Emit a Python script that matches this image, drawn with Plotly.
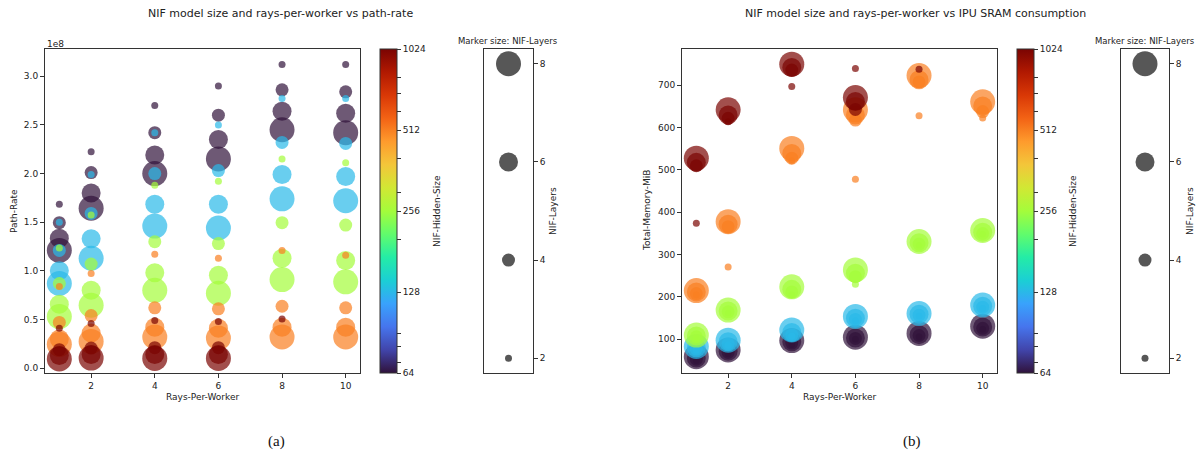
import numpy as np
import plotly.graph_objects as go

W, H = 1200, 457

# ---------------- data ----------------
rays = [1, 2, 4, 6, 8, 10]
hidden_sizes = [64, 128, 256, 512, 1024]
layers = [2, 4, 6, 8]

# path rate (rows: rays, cols: layers 2,4,6,8), in units of 1e8
path_rate_64 = [[1.685, 1.495, 1.334, 1.21], [2.224, 2.01, 1.80, 1.643], [2.70, 2.42, 2.19, 2.00],
                [2.90, 2.60, 2.35, 2.15], [3.12, 2.86, 2.64, 2.45], [3.12, 2.84, 2.62, 2.42]]
path_rate_128 = [[1.50, 1.21, 1.00, 0.87], [1.99, 1.59, 1.33, 1.13], [2.42, 2.00, 1.685, 1.46],
                 [2.50, 2.03, 1.685, 1.44], [2.77, 2.32, 1.99, 1.74], [2.77, 2.31, 1.97, 1.72]]
path_rate_256 = [[1.235, 0.87, 0.657, 0.53], [1.574, 1.07, 0.80, 0.646], [1.88, 1.30, 0.98, 0.80],
                 [1.92, 1.28, 0.955, 0.77], [2.15, 1.495, 1.13, 0.91], [2.11, 1.47, 1.107, 0.887]]
path_rate_512 = [[0.84, 0.47, 0.30, 0.245], [0.973, 0.54, 0.36, 0.275], [1.17, 0.62, 0.42, 0.32],
                 [1.13, 0.61, 0.41, 0.31], [1.21, 0.636, 0.42, 0.32], [1.16, 0.62, 0.42, 0.32]]
path_rate_1024 = [[0.41, 0.19, 0.13, 0.095], [0.458, 0.206, 0.14, 0.103], [0.49, 0.21, 0.14, 0.10],
                  [0.48, 0.21, 0.14, 0.10], [0.505, None, None, None], [None, None, None, None]]
path_rate_scale = 1e8

# total memory MiB (rows: rays, cols: layers 2,4,6,8)
memory_64 = [[50, 53, 56, 59], [66, 69, 72, 75], [88, 91, 94, 97],
             [100, 102, 103, 105], [106, 109, 111, 114], [124, 126, 129, 131]]
memory_128 = [[74, 77, 80, 83], [86, 89, 94, 98], [107, 110, 116, 122],
              [144, 147, 150, 154], [155, 157, 159, 161], [173, 176, 178, 181]]
memory_256 = [[103, 106, 108, 110], [162, 165, 167, 169], [205, 212, 218, 224],
              [230, 248, 256, 264], [322, 325, 328, 331], [348, 350, 353, 357]]
memory_512 = [[205, 208, 212, 215], [271, 366, 372, 378], [522, 528, 539, 551],
              [478, 618, 630, 642], [628, 708, 713, 723], [623, 638, 651, 661]]
memory_1024 = [[374, 510, 518, 528], [614, 622, 630, 642], [697, 736, 742, 750],
               [740, 643, 662, 671], [738, None, None, None], [None, None, None, None]]

path_rates = {64: path_rate_64, 128: path_rate_128, 256: path_rate_256, 512: path_rate_512, 1024: path_rate_1024}
memories = {64: memory_64, 128: memory_128, 256: memory_256, 512: memory_512, 1024: memory_1024}

path_ticks = [0.0, 0.5, 1.0, 1.5, 2.0, 2.5, 3.0]
mem_ticks = [100, 200, 300, 400, 500, 600, 700]
x_ticks = [2, 4, 6, 8, 10]
cbar_major = [64, 128, 256, 512, 1024]
cbar_minor = [70, 80, 90, 200, 300, 400, 600, 700, 800]

# ---------------- helpers ----------------
def fx(px):
    return px / W

def fy(py):
    return 1 - py / H

FONT = "DejaVu Sans"
LINE = "#333333"

def build(table):
    xs, ys, cs, ss = [], [], [], []
    for h in hidden_sizes:
        for li, L in enumerate(layers):
            for ri, r in enumerate(rays):
                v = table[h][ri][li]
                if v is None:
                    continue
                xs.append(r)
                ys.append(v)
                cs.append(np.log2(h))
                ss.append(3 * L + 1)
    return xs, ys, cs, ss

main_top, main_bot = 49, 373
ydom = [fy(main_bot), fy(main_top)]
ymid = fy((main_top + main_bot) / 2)

cb_tickvals = [float(np.log2(v)) for v in cbar_major + cbar_minor]
cb_ticktext = [str(v) for v in cbar_major] + [""] * len(cbar_minor)

def colorbar(x_left):
    return dict(x=fx(x_left), xanchor="left", y=ymid, yanchor="middle",
                thickness=17, thicknessmode="pixels",
                len=(main_bot - main_top) / H, lenmode="fraction",
                xpad=0, ypad=0, outlinewidth=1, outlinecolor=LINE,
                ticks="outside", ticklen=4, tickcolor=LINE, tickwidth=1,
                tickvals=cb_tickvals, ticktext=cb_ticktext,
                tickfont=dict(family=FONT, size=9, color="#222"))

fig = go.Figure()

# panel (a)
xa, ya, ca, sa = build(path_rates)
fig.add_trace(go.Scatter(
    x=xa, y=[v * path_rate_scale for v in ya], mode="markers", xaxis="x", yaxis="y",
    marker=dict(size=sa, color=ca, colorscale="Turbo", cmin=6, cmax=10, opacity=0.7,
                line=dict(width=0), showscale=True, colorbar=colorbar(380)),
    showlegend=False, hoverinfo="skip"))

# panel (b)
xb, yb, cb, sb = build(memories)
fig.add_trace(go.Scatter(
    x=xb, y=yb, mode="markers", xaxis="x3", yaxis="y3",
    marker=dict(size=sb, color=cb, colorscale="Turbo", cmin=6, cmax=10, opacity=0.7,
                line=dict(width=0), showscale=True, colorbar=colorbar(1017)),
    showlegend=False, hoverinfo="skip"))

# size legends
for xa_name, ya_name in (("x2", "y2"), ("x4", "y4")):
    fig.add_trace(go.Scatter(
        x=[0] * len(layers), y=layers, mode="markers", xaxis=xa_name, yaxis=ya_name,
        marker=dict(size=[3 * L + 1 for L in layers], color="#575757", opacity=1, line=dict(width=0)),
        showlegend=False, hoverinfo="skip"))

axis_common = dict(showline=True, mirror=True, linecolor=LINE, linewidth=1,
                   showgrid=False, zeroline=False, ticks="outside", ticklen=4,
                   tickcolor=LINE, tickfont=dict(family=FONT, size=9, color="#222"))

fig.update_layout(
    width=W, height=H, margin=dict(l=0, r=0, t=0, b=0),
    paper_bgcolor="white", plot_bgcolor="white",
    font=dict(family=FONT, size=9, color="#222"),
    xaxis=dict(domain=[fx(45), fx(360)], range=[0.55, 10.45], tickvals=x_ticks, anchor="y", **axis_common),
    yaxis=dict(domain=ydom, range=[-0.05e8, 3.28e8], anchor="x",
               tickvals=[t * path_rate_scale for t in path_ticks],
               ticktext=[f"{t:.1f}" for t in path_ticks], **axis_common),
    xaxis2=dict(domain=[fx(484), fx(533)], range=[-1, 1], anchor="y2", showticklabels=False,
                **{**axis_common, "ticks": ""}),
    yaxis2=dict(domain=ydom, range=[1.7, 8.3], anchor="x2", side="right", tickvals=layers, **axis_common),
    xaxis3=dict(domain=[fx(682), fx(997)], range=[0.55, 10.45], tickvals=x_ticks, anchor="y3", **axis_common),
    yaxis3=dict(domain=ydom, range=[20.4, 785.8], anchor="x3", tickvals=mem_ticks, **axis_common),
    xaxis4=dict(domain=[fx(1121), fx(1169)], range=[-1, 1], anchor="y4", showticklabels=False,
                **{**axis_common, "ticks": ""}),
    yaxis4=dict(domain=ydom, range=[1.7, 8.3], anchor="x4", side="right", tickvals=layers, **axis_common),
)

def ann(text, x, y, size=9, angle=0, xanchor="center", yanchor="middle", family=FONT, color="#222"):
    fig.add_annotation(text=text, x=fx(x), y=fy(y), xref="paper", yref="paper", showarrow=False,
                       textangle=angle, xanchor=xanchor, yanchor=yanchor,
                       font=dict(family=family, size=size, color=color))

# titles
ann("NIF model size and rays-per-worker vs path-rate", 280, 14, size=11)
ann("NIF model size and rays-per-worker vs IPU SRAM consumption", 915, 14, size=11)
ann("Marker size: NIF-Layers", 508, 41, size=8.5)
ann("Marker size: NIF-Layers", 1145, 41, size=8.5)
ann("1e8", 45, 44, size=9, xanchor="left")
# axis labels
ann("Rays-Per-Worker", 202.5, 397, size=9)
ann("Rays-Per-Worker", 839.5, 397, size=9)
ann("Path-Rate", 14, 211, size=9, angle=-90)
ann("Total-Memory-MiB", 647, 211, size=9, angle=-90)
ann("NIF-Hidden-Size", 437, 211, size=9, angle=-90)
ann("NIF-Hidden-Size", 1073, 211, size=9, angle=-90)
ann("NIF-Layers", 553, 211, size=9, angle=-90)
ann("NIF-Layers", 1190, 211, size=9, angle=-90)
# captions
ann("(a)", 276, 441, size=15, family="Liberation Serif", color="#111")
ann("(b)", 912, 441, size=15, family="Liberation Serif", color="#111")

fig.write_html("out.html")
